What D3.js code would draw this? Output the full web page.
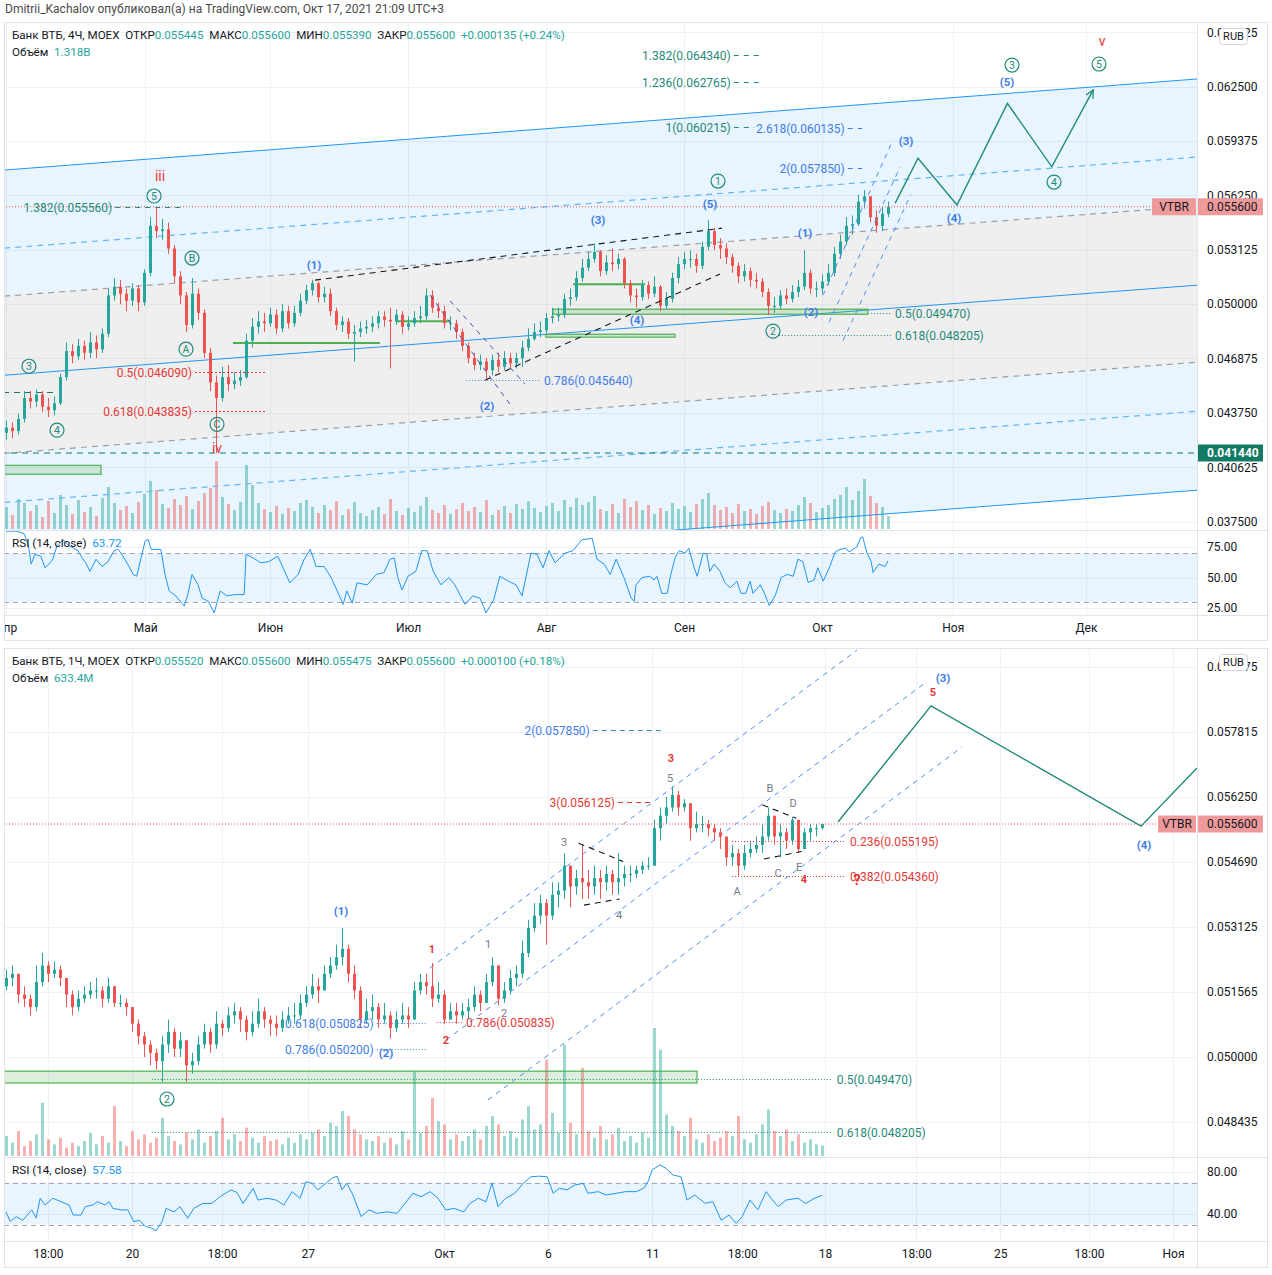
<!DOCTYPE html>
<html>
<head>
<meta charset="utf-8">
<script src="https://d3js.org/d3.v7.min.js"></script>
<style>
  body { margin: 0; background: #fff; }
  svg { display: block; font-family: Roboto, "Liberation Sans", sans-serif; }
  .pre { white-space: pre; }
</style>
</head>
<body>
<svg width="1272" height="1275"></svg>
<script>
// prices are kept x1000 (55.6 means 0.055600), volumes in billions

// ---------- top chart: VTBR 4h ----------
const topOpen0 = 42.6;
const topClose = [
  42.9,42.7,43.4,44.6,44.4,44.8,44.1,43.9,44.3,45.8,
  47.3,47.0,47.6,47.2,47.8,47.4,48.3,50.5,51.0,50.6,
  50.2,50.9,50.1,51.8,54.5,54.2,54.3,53.2,51.6,50.5,
  48.8,50.6,49.5,47.2,45.5,44.6,45.8,45.4,45.6,45.8,
  47.9,48.7,49.0,48.9,49.4,48.6,49.6,48.9,49.5,50.2,
  50.8,51.2,50.4,50.6,49.6,48.8,49.0,48.3,48.4,48.6,
  48.7,48.9,49.3,49.1,49.0,49.4,48.7,48.9,49.2,49.3,
  50.5,49.8,49.6,48.9,48.9,48.4,47.6,46.9,46.5,46.7,
  46.2,46.8,46.4,46.9,46.6,46.9,47.5,48.0,48.4,48.5,
  49.2,49.3,49.4,50.3,50.4,51.5,52.1,52.6,53.0,51.9,
  52.4,52.3,52.6,51.2,50.5,50.4,51.1,50.6,51.0,49.9,
  50.3,51.5,52.3,52.6,52.6,52.2,53.3,54.2,53.4,53.2,
  52.7,52.2,51.6,51.9,51.4,51.3,50.7,49.9,49.9,50.5,
  50.3,50.7,51.0,51.8,50.9,50.9,51.3,51.8,52.9,53.6,
  54.5,54.6,55.9,56.2,55.0,54.5,55.2,55.6];
const topHigh = [
  43.3,43.2,43.7,45.0,45.0,45.1,45.0,44.6,44.7,46.0,
  47.8,47.7,48.0,47.9,48.4,48.2,48.6,50.9,51.5,51.4,
  50.9,51.2,51.1,52.0,55.0,55.56,54.9,54.7,53.4,51.9,
  50.7,51.5,50.9,49.7,47.5,45.9,46.4,46.5,46.1,46.2,
  48.3,49.2,49.6,49.5,49.8,49.7,50.0,49.9,49.9,50.6,
  51.1,51.4,51.3,51.0,50.9,49.8,49.3,49.2,48.8,49.0,
  49.1,49.3,49.6,49.6,49.8,49.7,49.6,49.3,49.6,49.9,
  50.9,50.8,50.1,49.9,49.3,49.1,48.6,47.8,47.2,47.1,
  46.9,47.1,47.2,47.3,47.2,47.2,47.9,48.6,48.9,49.0,
  49.5,49.8,49.8,50.6,50.9,51.9,52.6,53.0,53.5,53.1,
  52.8,53.2,52.9,52.7,51.4,50.9,51.4,51.3,51.6,51.1,
  50.7,51.8,52.7,53.0,53.1,52.9,53.6,54.83,54.4,53.8,
  53.5,52.9,52.4,52.3,52.1,51.8,51.5,50.9,50.4,50.8,
  50.9,51.1,51.4,53.1,52.0,51.3,51.7,52.3,53.3,54.0,
  55.0,55.1,56.3,56.56,56.2,55.4,55.6,55.9];
const topLow = [
  42.2,42.3,42.5,43.2,44.0,44.1,43.8,43.5,43.6,44.2,
  45.6,46.6,46.8,46.8,46.9,46.9,47.2,48.1,50.2,50.0,
  49.6,49.9,49.6,49.9,51.6,53.8,53.7,52.9,51.2,50.0,
  48.4,48.6,49.1,46.9,45.0,41.44,44.4,45.0,45.1,45.3,
  45.7,47.5,48.3,48.4,48.7,48.3,48.4,48.6,48.7,49.3,
  50.0,50.5,50.1,50.1,49.3,48.5,48.4,48.0,46.7,48.1,
  48.3,48.4,48.6,48.7,46.3,48.8,48.3,48.5,48.7,48.9,
  49.1,49.5,49.2,48.6,48.5,48.0,47.3,46.6,46.2,46.2,
  45.64,45.9,46.1,46.2,46.3,46.3,46.4,47.3,47.9,48.1,
  48.3,48.9,49.0,49.2,49.9,50.2,51.3,51.9,52.4,51.6,
  51.7,51.9,52.0,50.9,50.1,49.8,50.2,50.3,50.4,49.6,
  49.7,50.1,51.2,52.0,52.1,51.8,52.0,53.1,53.1,52.6,
  52.3,51.8,51.2,51.3,51.0,50.9,50.4,49.37,49.5,49.7,
  50.0,50.1,50.4,50.8,50.6,50.4,50.6,51.1,51.6,52.6,
  53.4,54.0,54.5,55.5,54.7,54.1,54.2,55.0];
const topVol = [
  2.2,1.4,3.0,2.6,1.8,2.4,1.2,2.8,1.6,3.4,
  2.4,1.5,2.9,1.7,2.2,1.3,3.1,4.2,2.6,1.9,
  2.3,1.6,2.7,3.5,4.8,3.9,2.5,2.1,3.0,2.4,
  3.3,2.0,2.8,3.6,4.1,6.8,3.2,2.5,1.9,2.7,
  6.4,4.4,2.6,2.0,1.7,2.3,1.5,2.1,1.8,2.6,
  2.9,2.2,1.6,2.4,1.9,2.8,1.4,2.0,2.7,1.6,
  1.3,1.9,2.2,1.5,3.0,1.8,1.4,2.1,1.7,2.3,
  3.2,1.9,1.6,2.4,1.5,2.0,2.6,1.8,2.2,1.7,
  2.9,1.4,1.9,2.3,1.6,2.5,2.0,2.8,2.1,1.7,
  2.3,2.6,1.8,2.9,2.2,3.1,2.4,2.7,3.3,2.0,
  1.8,2.5,1.6,3.0,2.2,2.8,1.9,2.4,1.5,2.1,
  1.8,2.6,2.0,2.3,1.7,2.5,3.0,3.6,2.4,1.9,
  2.2,1.6,2.5,1.8,2.0,1.5,2.3,2.7,1.9,1.6,
  2.0,1.8,2.4,3.2,2.6,1.7,2.1,2.4,3.0,3.4,
  4.2,2.9,3.8,5.0,3.3,2.6,2.2,1.3];
const topRsi = [[0,88],[1.7,88],[3,86],[3.7,77],[4.2,61],[4.8,69],[5.8,67.5],[6.5,58],[7.2,61],[7.8,65],[8.5,76],[9.5,81],[10.5,76],[12,72],[12.7,66],[13.3,62],[14,55],[15,65],[16,59],[17,63],[18,72],[18.7,73],[19.3,69],[20.5,59],[21.2,52.5],[21.8,51],[22.5,66],[23.2,80],[23.7,81],[24.2,73],[25.8,73],[26.5,52.5],[27.2,39],[28.3,35],[29.7,26.5],[30.3,36],[31,52.5],[32,44],[32.7,33],[33.7,30.6],[34.7,21],[35.7,39],[36.8,35],[38.2,36],[39.7,36],[40,69],[41.2,66],[42.5,62],[43.8,63],[45.3,67.5],[46.3,56.5],[47.3,45.6],[48.7,52.5],[49.7,65],[50.7,73],[51.7,59],[53,59],[54.2,50],[55.2,39],[56.2,28],[56.8,39],[57.7,29],[58.5,45.6],[60.2,44],[61.7,52.5],[63,54],[64,65],[64.7,66],[65.3,50],[66,40],[67,51],[68.3,55],[69.3,72],[70.2,72],[71.2,55],[72.5,44],[73.8,50],[74.8,44],[76.5,28],[77.8,35],[79,33],[80,21],[81.3,32],[82.3,51],[83.7,47],[85,44],[86,35],[87.5,70],[88.5,69],[89.5,58],[90.5,72],[91.5,62],[93.2,70],[94.5,72],[96,81],[97.7,82],[98.5,65],[99.7,61],[100.7,52.5],[101.7,65],[103,50],[104.2,33],[104.7,30.6],[105,44],[106,50],[107.3,51],[108,48],[108.5,51],[109.3,37],[110.2,37],[110.8,52.5],[111.5,66],[112.2,72],[113.2,70],[113.8,74],[114.7,58],[115.2,51],[116.2,70],[116.8,69],[117.3,55],[118,61],[119,55],[119.8,46],[120.7,41.5],[121.8,47],[122.5,37],[123.3,37],[124,47],[124.5,37],[125.7,44],[126.5,36],[127.2,27],[128.2,35],[129.2,50],[130.2,52.5],[131.2,51],[132,65],[132.8,63],[133.7,46],[134.7,48],[135.3,58],[136.2,47],[137.3,59],[138.2,71],[139,73],[140,74],[140.5,71],[141.8,75],[142.5,83],[142.8,83],[143.5,70],[144.2,63],[144.5,54],[145.5,61],[146.5,59],[147,63.7]];

const topTime = [["Апр",0],["Май",23.2],["Июн",44],["Июл",67],["Авг",90],["Сен",113],["Окт",136],["Ноя",157.8],["Дек",180]];
const topTicks = [37.5,40.625,43.75,46.875,50,53.125,56.25,59.375,62.5,65.625];
const topTickLabels = ["0.037500","0.040625","0.043750","0.046875","0.050000","0.053125","0.056250","0.059375","0.062500","0.065625"];
const topRsiTicks = [25,50,75];
const topHeader = ["Банк ВТБ, 4Ч, MOEX", "0.055445", "0.055600", "0.055390", "0.055600", "+0.000135 (+0.24%)", "1.318B", "63.72"];

// drawings on the top chart, [i0, p0, i1, p1] in bar index / price
const topChannel = [[-0.3,57.71,198.5,62.95],[-0.3,45.91,198.5,51.09],[-0.3,34.06,198.5,39.30]];
const topChannelDash = [[-0.3,53.22,198.5,58.46],[-0.3,38.60,198.5,43.84]];
const topGrayDash = [[-0.3,50.46,198.5,55.64],[-0.3,41.42,198.5,46.66]];
const topBlackDash = [[51.5,51.38,119.33,54.37],[79.83,45.63,119,51.73]];
const topNavyDash = [[70.67,50.52,84.5,44.01],[74,50.2,86.5,45.4]];
const topBlueDiag = [[136.17,50.52,147.83,59.44],[137.17,48.96,149,57.88],[139.5,47.9,150.8,56.3]];
const topGreenLines = [[37.83,62.33,47.76],[65.17,74,49.02],[94.5,106.5,51.15]];
const topGreenBoxes = [[-0.33,15.83,40.22,40.73],[91.17,143.67,49.42,49.71],[90,111.5,48.10,48.27]];
const topLevels = [[-1,199,41.44],[-0.5,8.5,44.92]];
const topFibTealLeft = [["1.382(0.064340)",64.34,121.3,126],["1.236(0.062765)",62.765,121.3,126],["1(0.060215)",60.215,121.3,124.7],["1.382(0.055560)",55.56,18.2,29.5]];
const topFibBlueLeft = [["2.618(0.060135)",60.135,140.3,142.7],["2(0.057850)",57.85,140.3,142.7]];
const topFibRedLeft = [["0.5(0.046090)",46.09,31.5,43.2],["0.618(0.043835)",43.835,31.5,43.2]];
const topFibBlueRight = [["0.786(0.045640)",45.64,76.7,89]];
const topFibTealRight = [["0.5(0.049470)",49.47,144.2,147.5],["0.618(0.048205)",48.205,128.8,147.5]];
const topCircled = [["3",3.83,46.43],["4",8.5,42.75],["5",24.67,56.22],["B",31,52.65],["A",30,47.41],["C",35.17,43.09],["1",118.67,57.08],["2",127.83,48.45],["3",167.67,63.75],["4",174.67,57.02],["5",182.17,63.81]];
const topRoman = [["iii",25.67,57.37],["iv",35.17,41.71],["v",182.67,65.14]];
const topParen = [["(1)",51.33,52.24],["(2)",80.17,44.13],["(3)",98.67,54.83],["(4)",105.17,49.08],["(5)",117.33,55.76],["(1)",133.17,54.09],["(2)",134.17,49.54],["(3)",150,59.38],["(4)",158,54.95],["(5)",166.83,62.78]];
const topPath = [[148.2,55.81],[152,58.39],[158.5,55.70],[166.9,61.55],[174.3,57.90],[181.2,62.32]];

// ---------- bottom chart: VTBR 1h ----------
const botOpen0 = 51.7;
const botClose = [
  51.9,52.0,51.5,51.4,51.2,51.8,52.2,52.0,52.1,51.9,
  51.5,51.2,51.4,51.5,51.6,51.6,51.4,51.7,51.3,51.3,
  51.2,50.8,50.5,50.3,50.1,49.9,50.3,50.6,50.2,50.4,
  49.8,49.9,50.3,50.6,50.3,50.8,50.7,51.0,51.1,50.9,
  50.6,50.8,51.1,50.9,50.8,50.7,50.9,51.0,51.0,51.3,
  51.5,51.7,51.6,52.0,52.2,52.4,52.6,52.0,51.6,50.9,
  51.1,51.2,50.9,51.0,50.7,50.9,51.0,50.9,51.6,51.8,
  51.7,51.4,51.5,50.9,51.1,51.0,51.1,51.2,51.5,51.3,
  51.8,52.2,51.4,51.6,51.9,52.0,52.5,53.1,53.4,53.7,
  53.4,53.9,54.0,54.6,54.1,54.3,54.2,54.1,54.3,54.2,
  54.4,54.2,54.3,54.4,54.4,54.5,54.6,54.6,55.5,55.8,
  56.0,56.3,56.0,56.1,55.5,55.6,55.6,55.5,55.4,55.3,
  54.8,54.9,54.6,54.9,55.0,55.1,55.3,55.8,55.3,55.4,
  55.2,55.7,55.0,55.4,55.5,55.5,55.6];
const botHigh = [
  52.1,52.2,52.0,51.7,51.5,52.2,52.5,52.3,52.3,52.2,
  51.9,51.6,51.6,51.7,51.8,51.9,51.7,51.9,51.7,51.5,
  51.4,51.2,50.9,50.6,50.4,50.2,50.5,50.9,50.7,50.6,
  50.4,50.1,50.5,50.8,50.7,51.1,50.9,51.2,51.3,51.2,
  51.0,51.1,51.4,51.2,51.0,51.0,51.1,51.2,51.3,51.5,
  51.7,52.0,51.9,52.2,52.4,52.7,53.1,52.7,52.2,51.7,
  51.4,51.5,51.3,51.3,51.1,51.1,51.3,51.2,51.8,52.0,
  52.0,52.26,51.8,51.6,51.3,51.3,51.3,51.4,51.7,51.6,
  52.0,52.4,52.2,51.8,52.1,52.2,52.8,53.3,53.7,53.9,
  53.8,54.2,54.2,54.9,54.6,54.5,55.1,54.5,54.6,54.5,
  54.6,54.5,54.9,54.6,54.6,54.6,54.7,54.8,55.7,56.0,
  56.25,56.5,56.4,56.2,56.1,55.9,55.8,55.7,55.6,55.5,
  55.3,55.1,55.0,55.1,55.2,55.3,55.6,56.0,55.8,55.6,
  55.5,55.77,55.6,55.5,55.6,55.6,55.6];
const botLow = [
  51.6,51.7,51.3,51.2,51.0,51.1,51.7,51.8,51.9,51.7,
  51.2,51.0,51.1,51.3,51.4,51.4,51.2,51.3,51.2,51.2,
  51.0,50.6,50.3,50.0,49.8,49.7,49.4,50.1,50.0,50.0,
  49.4,49.6,49.8,50.2,50.1,50.2,50.5,50.6,50.8,50.6,
  50.4,50.5,50.7,50.7,50.5,50.5,50.6,50.8,50.8,50.9,
  51.2,51.4,51.3,51.6,51.9,52.1,52.2,51.8,51.4,50.7,
  50.8,50.9,50.7,50.8,50.45,50.6,50.8,50.7,50.9,51.5,
  51.5,51.2,51.3,50.8,50.9,50.8,50.9,50.9,51.1,51.1,
  51.3,51.7,51.25,51.3,51.5,51.7,51.9,52.4,53.0,53.2,
  52.7,53.3,53.6,53.8,53.6,53.9,53.8,53.8,53.9,53.8,
  54.0,53.9,53.9,54.1,54.2,54.3,54.4,54.5,54.6,55.2,
  55.6,55.9,55.8,55.9,55.2,55.4,55.4,55.3,55.2,55.0,
  54.6,54.6,54.36,54.5,54.8,54.9,54.9,55.2,55.1,54.8,
  55.0,55.1,54.9,55.0,55.2,55.3,55.47];
const botVol = [
  1.2,0.8,1.5,0.6,0.9,1.3,3.2,1.0,0.7,1.1,
  0.5,0.8,0.6,0.9,1.4,0.7,1.2,0.8,3.0,0.9,
  0.6,1.5,1.0,1.3,0.8,1.1,2.3,1.2,0.9,0.7,
  1.4,1.0,1.6,0.8,1.2,1.5,2.3,1.0,1.3,0.9,
  1.7,1.1,0.8,1.2,0.9,1.0,0.7,1.1,0.8,1.3,
  1.0,1.4,1.6,1.2,2.0,1.8,2.7,2.4,1.6,1.3,
  1.0,0.9,1.2,0.8,1.1,0.7,1.5,1.0,5.1,1.4,
  1.8,3.5,2.1,1.9,1.0,1.3,0.9,1.2,1.6,1.0,
  1.8,2.4,1.9,1.2,1.5,1.1,2.2,3.0,1.6,1.9,
  5.8,2.6,1.4,6.7,2.0,1.3,5.3,1.5,1.1,1.8,
  1.0,1.3,1.7,0.9,1.2,0.8,1.4,1.1,7.7,6.4,
  2.5,1.8,1.5,1.2,2.3,1.0,0.8,1.3,0.9,1.1,
  1.5,1.2,2.4,1.0,0.8,1.3,1.9,2.8,1.5,1.2,
  1.6,0.9,1.3,0.8,1.0,0.7,0.63];
const botRsi = [[0,42],[0.7,33],[1.7,37.5],[2.8,34],[4.3,44],[5,36],[5.7,55],[6.5,48.6],[7.8,55],[9.2,51.7],[10.5,48.6],[11.2,39],[12.5,39],[13.2,47],[14.5,48.6],[15.2,51.7],[16.5,48.6],[17.2,51.7],[17.8,45.4],[19.3,43.8],[20.3,44],[21.3,32.7],[22.2,34],[23.3,28],[24.3,26.5],[25,24],[26,32.7],[26.7,45.4],[28,42],[29,47],[30.3,36],[31.3,45.4],[32.8,50],[34.3,50],[35.7,56.5],[37.5,63],[38.5,60.5],[39.5,50],[41.2,64.5],[42,53.3],[43.5,55],[45,53.3],[46.3,48.6],[47.7,61.3],[49,55],[50,70.8],[51,69.2],[52,63],[53.3,69.2],[54.3,74],[55.2,76],[56,63],[56.8,69.2],[57.7,59.7],[59.2,37.5],[60.5,44],[61.8,40.6],[63.5,42],[65.2,40.6],[66.5,50],[67.8,59.7],[69.2,56.5],[70.7,61.3],[72,55],[73.3,43.8],[74.7,45.4],[76.3,42],[77.3,50],[78.7,55],[80,51.7],[81,69.2],[82,47],[83.3,55],[84.8,59.7],[86.2,69.2],[87.5,75.5],[88.8,76],[90.2,75.5],[91.2,59.7],[92.2,64.5],[93.5,63],[94.8,67.6],[96.2,69.2],[97,59.7],[98.7,61.3],[100,58.1],[101.7,59.7],[103.3,61.3],[105,61.3],[106.3,64.5],[107,70.8],[107.7,82],[109,86.7],[110,83.5],[111.2,77],[112.5,75.5],[113.5,53.3],[114.8,58.1],[116.5,50.2],[117.8,51.7],[119.2,34],[120.5,39],[121.7,31],[122.7,37.5],[124,53.3],[125.3,44],[126.7,61.3],[127.5,55],[128.7,47],[130,53.3],[132,55],[133.3,50],[134.7,55],[136,57.6]];

const botTime = [["18:00",7],["20",21],["18:00",36],["27",50.3],["Окт",73],["6",90.3],["11",107.7],["18:00",122.7],["18",136.5],["18:00",151.7],["25",165.7],["18:00",180.5],["Ноя",194.5]];
const botTicks = [48.4375,50,51.5625,53.125,54.6875,56.25,57.8125,59.375];
const botTickLabels = ["0.048435","0.050000","0.051565","0.053125","0.054690","0.056250","0.057815","0.059375"];
const botRsiTicks = [40,80];
const botHeader = ["Банк ВТБ, 1Ч, MOEX", "0.055520", "0.055600", "0.055475", "0.055600", "+0.000100 (+0.18%)", "633.4M", "57.58"];

const botChannelDash = [[70.67,52.14,141.83,59.78],[73.33,50.41,153.17,58.99],[80.33,48.97,159.33,57.45]];
const botBlackDash = [[95.43,55.14,102.87,54.70],[96.33,53.65,102.27,53.80],[126.08,56.06,131.73,55.74],[126.33,54.76,132.63,54.94]];
const botGreenBoxes = [[-0.33,115.17,49.375,49.66]];
const botFibRedLeft = [["3(0.056125)",56.125,102,107.7]];
const botFibBlueLeft = [["2(0.057850)",57.85,97.8,109.7]];
const botFibBlueDot = [["0.618(0.050825)",50.825,61.8,70.3],["0.786(0.050200)",50.2,61.8,70.3]];
const botFibRedRight = [["0.236(0.055195)",55.195,121,140],["0.382(0.054360)",54.36,121,140],["0.786(0.050835)",50.835,71.8,76]];
const botFibTealRight = [["0.5(0.049470)",49.47,24.3,137.8],["0.618(0.048205)",48.205,24.3,137.8]];
const botCircled = [["2",26.83,48.99]];
const botParen = [["(1)",55.83,53.51],["(2)",63.33,50.10],["(3)",156.17,59.11],["(4)",189.67,55.10]];
const botRed = [["1",71,52.60],["2",73.33,50.41],["3",110.83,57.19],["4",133,54.28],["5",154.5,58.77]];
const botGray = [["1",80.33,52.72],["2",83,51.06],["3",93,55.17],["4",102.17,53.41],["5",110.67,56.71],["A",121.83,53.99],["B",127.33,56.47],["C",128.67,54.42],["D",131.17,56.11],["E",132.17,54.57]];
const botPath = [[138.67,55.65],[154.17,58.44],[189.17,55.55],[198.5,56.95]];

// ---------- drawing ----------
const FONT = 'Roboto, "Liberation Sans", sans-serif';
const UP = '#26a69a', DOWN = '#ef5350', TXT = '#131722';
const TEAL = '#1f8a78', BLUE = '#2196f3', WBLUE = '#3f7ee8', RED = '#e53935', GRAY = '#787b86';
const L = 4, R = 1268, AX = 1197;

const svg = d3.select('svg');
const defs = svg.append('defs');
defs.append('marker').attr('id', 'arr').attr('viewBox', '0 0 10 10')
  .attr('refX', 9).attr('refY', 5).attr('markerWidth', 7).attr('markerHeight', 7)
  .attr('orient', 'auto').append('path').attr('d', 'M1,1 L9,5 L1,9')
  .attr('fill', 'none').attr('stroke', TEAL).attr('stroke-width', 1.3);

svg.append('text').attr('x', 5).attr('y', 13).attr('font-size', 12).attr('fill', '#4a4a4a')
  .text('Dmitrii_Kachalov опубликовал(а) на TradingView.com, Окт 17, 2021 21:09 UTC+3');

function setupPanel(c) {
  const x = d3.scaleLinear().domain([0, 198]).range([6, 1194]);
  const y = d3.scaleLinear().domain(c.yDomain).range(c.yRange);
  const yr = d3.scaleLinear().domain(c.rsiDomain).range(c.rsiRange);
  const yv = d3.scaleLinear().domain([0, c.volMax]).range([c.mainBottom - 1, c.mainBottom - 1 - c.volPx]);
  [['m', c.top, c.mainBottom], ['r', c.mainBottom, c.rsiBottom], ['t', c.rsiBottom, c.bottom]].forEach(([k, a, b]) =>
    defs.append('clipPath').attr('id', c.id + k).append('rect')
      .attr('x', L).attr('y', a).attr('width', AX - L).attr('height', b - a));

  const root = svg.append('g');
  const grid = root.append('g').attr('stroke', '#eef1f7').attr('stroke-width', 1);
  c.time.forEach(d => grid.append('line')
    .attr('x1', Math.round(x(d[1])) + 0.5).attr('x2', Math.round(x(d[1])) + 0.5)
    .attr('y1', c.top).attr('y2', c.rsiBottom));
  c.ticks.forEach(v => grid.append('line').attr('x1', L).attr('x2', AX)
    .attr('y1', Math.round(y(v)) + 0.5).attr('y2', Math.round(y(v)) + 0.5));
  c.rsiTicks.forEach(v => grid.append('line').attr('x1', L).attr('x2', AX)
    .attr('y1', Math.round(yr(v)) + 0.5).attr('y2', Math.round(yr(v)) + 0.5));

  const main = root.append('g').attr('clip-path', `url(#${c.id}m)`);
  const rsi = root.append('g').attr('clip-path', `url(#${c.id}r)`);
  const tax = root.append('g').attr('clip-path', `url(#${c.id}t)`);
  return { c, x, y, yr, yv, root, main, rsi, tax };
}

function drawVolume(P, open0, close, vol) {
  P.main.append('g').selectAll('rect').data(vol).join('rect')
    .attr('x', (d, i) => Math.round(P.x(i)) - 1).attr('width', 3)
    .attr('y', d => P.yv(d)).attr('height', d => P.yv(0) - P.yv(d))
    .attr('fill', (d, i) => close[i] >= (i ? close[i - 1] : open0) ? UP : DOWN)
    .attr('opacity', 0.45);
}

function drawCandles(P, open0, close, high, low) {
  const data = close.map((c, i) => ({ i, o: i ? close[i - 1] : open0, c, h: high[i], l: low[i] }));
  const g = P.main.append('g');
  g.selectAll('line').data(data).join('line')
    .attr('x1', d => Math.round(P.x(d.i)) + 0.5).attr('x2', d => Math.round(P.x(d.i)) + 0.5)
    .attr('y1', d => P.y(Math.max(d.h, d.o, d.c))).attr('y2', d => P.y(Math.min(d.l, d.o, d.c)))
    .attr('stroke', d => d.c >= d.o ? UP : DOWN);
  g.selectAll('rect').data(data).join('rect')
    .attr('x', d => Math.round(P.x(d.i)) - 1).attr('width', 3)
    .attr('y', d => P.y(Math.max(d.o, d.c)))
    .attr('height', d => Math.max(1, Math.abs(P.y(d.o) - P.y(d.c))))
    .attr('fill', d => d.c >= d.o ? UP : DOWN);
}

function drawRsi(P, pts) {
  const c = P.c;
  P.rsi.append('rect').attr('x', L).attr('width', AX - L)
    .attr('y', P.yr(70)).attr('height', P.yr(30) - P.yr(70)).attr('fill', 'rgba(33,150,243,0.1)');
  [70, 30].forEach(v => P.rsi.append('line').attr('x1', L).attr('x2', AX)
    .attr('y1', Math.round(P.yr(v)) + 0.5).attr('y2', Math.round(P.yr(v)) + 0.5)
    .attr('stroke', '#a3a6af').attr('stroke-dasharray', '5,4'));
  P.rsi.append('path').datum(pts)
    .attr('d', d3.line().x(d => P.x(d[0])).y(d => P.yr(d[1])))
    .attr('fill', 'none').attr('stroke', BLUE).attr('stroke-width', 1);
  const t = P.rsi.append('text').attr('x', 12).attr('y', c.mainBottom + 17).attr('font-size', 11.7).attr('class', 'pre');
  t.append('tspan').attr('fill', TXT).text('RSI (14, close)  ');
  t.append('tspan').attr('fill', BLUE).text(c.header[7]);
}

function segs(g, P, arr, color, dash, width) {
  g.append('g').selectAll('line').data(arr).join('line')
    .attr('x1', d => P.x(d[0])).attr('y1', d => P.y(d[1]))
    .attr('x2', d => P.x(d[2])).attr('y2', d => P.y(d[3]))
    .attr('stroke', color).attr('stroke-width', width || 1)
    .attr('stroke-dasharray', dash || null);
}

function boxes(g, P, arr) {
  g.append('g').selectAll('rect').data(arr).join('rect')
    .attr('x', d => P.x(d[0])).attr('width', d => P.x(d[1]) - P.x(d[0]))
    .attr('y', d => P.y(d[3])).attr('height', d => P.y(d[2]) - P.y(d[3]))
    .attr('fill', 'rgba(76,175,80,0.2)').attr('stroke', '#4caf50').attr('stroke-width', 1.2);
}

function fibs(g, P, arr, color, dash, side) {
  arr.forEach(([label, p, i0, i1]) => {
    const yy = Math.round(P.y(p)) + 0.5;
    g.append('line').attr('x1', P.x(i0)).attr('x2', P.x(i1)).attr('y1', yy).attr('y2', yy)
      .attr('stroke', color).attr('stroke-dasharray', dash);
    g.append('text').attr('x', side === 'left' ? P.x(i0) - 3 : P.x(i1) + 4).attr('y', yy)
      .attr('dy', '0.35em').attr('text-anchor', side === 'left' ? 'end' : 'start')
      .attr('font-size', 12).attr('fill', color).text(label);
  });
}

function labels(g, P, arr, color, size, weight) {
  g.append('g').selectAll('text').data(arr).join('text')
    .attr('x', d => P.x(d[1])).attr('y', d => P.y(d[2])).attr('dy', '0.35em')
    .attr('text-anchor', 'middle').attr('font-size', size).attr('font-weight', weight || 'normal')
    .attr('fill', color).text(d => d[0]);
}

function circled(g, P, arr) {
  const s = g.append('g').selectAll('g').data(arr).join('g')
    .attr('transform', d => `translate(${P.x(d[1])},${P.y(d[2])})`);
  s.append('circle').attr('r', 7).attr('fill', 'none').attr('stroke', TEAL).attr('stroke-width', 1.2);
  s.append('text').attr('dy', '0.36em').attr('text-anchor', 'middle').attr('font-size', 10.5)
    .attr('fill', TEAL).text(d => d[0]);
}

function pathLine(g, P, pts, arrow) {
  g.append('path').datum(pts)
    .attr('d', d3.line().x(d => P.x(d[0])).y(d => P.y(d[1])))
    .attr('fill', 'none').attr('stroke', TEAL).attr('stroke-width', 1.4)
    .attr('marker-end', arrow ? 'url(#arr)' : null);
}

function header(P) {
  const c = P.c, h = c.header;
  const t = P.root.append('text').attr('x', 12).attr('y', c.top + 17).attr('font-size', 11.6).attr('class', 'pre');
  [[h[0] + '  ОТКР', 0], [h[1], 1], ['  МАКС', 0], [h[2], 1], ['  МИН', 0], [h[3], 1],
   ['  ЗАКР', 0], [h[4], 1], ['  ' + h[5], 1]].forEach(([s, k]) =>
    t.append('tspan').attr('fill', k ? UP : TXT).text(s));
  const v = P.root.append('text').attr('x', 12).attr('y', c.top + 34).attr('font-size', 11.6).attr('class', 'pre');
  v.append('tspan').attr('fill', TXT).text('Объём  ');
  v.append('tspan').attr('fill', UP).text(h[6]);
}

function frame(P) {
  const c = P.c, g = P.root.append('g');
  g.append('rect').attr('x', L + 0.5).attr('y', c.top + 0.5).attr('width', R - L - 1).attr('height', c.bottom - c.top - 1)
    .attr('fill', 'none').attr('stroke', '#e0e3eb');
  [c.mainBottom, c.rsiBottom].forEach(v => g.append('line').attr('x1', L).attr('x2', R)
    .attr('y1', v + 0.5).attr('y2', v + 0.5).attr('stroke', '#e0e3eb'));
  g.append('line').attr('x1', AX + 0.5).attr('x2', AX + 0.5).attr('y1', c.top).attr('y2', c.bottom).attr('stroke', '#e0e3eb');

  // price axis
  const ya = g.append('g').attr('transform', `translate(${AX},0)`)
    .call(d3.axisRight(P.y).tickValues(c.ticks).tickFormat((d, i) => c.tickLabels[i]).tickSize(0).tickPadding(10));
  const ra = g.append('g').attr('transform', `translate(${AX},0)`)
    .call(d3.axisRight(P.yr).tickValues(c.rsiTicks).tickFormat(d3.format('.2f')).tickSize(0).tickPadding(10));
  // time axis
  const ta = P.tax.append('g').attr('transform', `translate(0,${c.rsiBottom})`)
    .call(d3.axisBottom(P.x).tickValues(c.time.map(d => d[1])).tickFormat((d, i) => c.time[i][0]).tickSize(0).tickPadding(8));
  [ya, ra, ta].forEach(a => {
    a.select('.domain').remove();
    a.attr('font-family', FONT).attr('font-size', 12);
    a.selectAll('text').attr('fill', TXT);
  });

  // RUB badge
  g.append('rect').attr('x', 1219.5).attr('y', c.top + 6.5).attr('width', 28).attr('height', 16).attr('rx', 3)
    .attr('fill', '#fff').attr('stroke', '#d1d4dc');
  g.append('text').attr('x', 1233.5).attr('y', c.top + 14.5).attr('dy', '0.35em').attr('text-anchor', 'middle')
    .attr('font-size', 11).attr('fill', TXT).text('RUB');
}

function priceTag(P, p, text, bg, fg, name, nameW) {
  const g = P.root.append('g'), yy = P.y(p);
  if (name) {
    g.append('rect').attr('x', AX - 1 - nameW).attr('y', yy - 8.5).attr('width', nameW).attr('height', 17).attr('fill', bg);
    g.append('text').attr('x', AX - 1 - nameW / 2).attr('y', yy).attr('dy', '0.35em').attr('text-anchor', 'middle')
      .attr('font-size', 12).attr('fill', fg).text(name);
  }
  g.append('rect').attr('x', AX + 1).attr('y', yy - 8.5).attr('width', 65).attr('height', 17).attr('fill', bg);
  g.append('text').attr('x', AX + 10).attr('y', yy).attr('dy', '0.35em').attr('font-size', 12)
    .attr('font-weight', fg === '#fff' ? 'bold' : 'normal').attr('fill', fg).text(text);
}

// ----- top panel -----
const T = setupPanel({
  id: 'a', top: 22, mainBottom: 530, rsiBottom: 615, bottom: 641,
  yDomain: [37.5, 62.5], yRange: [521.5, 86.8], rsiDomain: [25, 75], rsiRange: [608, 547],
  volMax: 9, volPx: 90, time: topTime, ticks: topTicks, tickLabels: topTickLabels,
  rsiTicks: topRsiTicks, header: topHeader
});
{
  const g = T.main;
  const area = (a, b) => [[a[0], a[1]], [a[2], a[3]], [b[2], b[3]], [b[0], b[1]]];
  const poly = pts => 'M' + pts.map(d => [T.x(d[0]), T.y(d[1])].join(',')).join('L') + 'Z';
  g.append('path').attr('d', poly(area(topChannel[0], topGrayDash[0]))).attr('fill', 'rgba(33,150,243,0.1)');
  g.append('path').attr('d', poly(area(topGrayDash[1], topChannel[2]))).attr('fill', 'rgba(33,150,243,0.1)');
  g.append('path').attr('d', poly(area(topGrayDash[0], topGrayDash[1]))).attr('fill', 'rgba(150,150,150,0.15)');
  drawVolume(T, topOpen0, topClose, topVol);
  segs(g, T, topChannel, BLUE, null, 1);
  segs(g, T, topChannelDash, '#64b5f6', '6,5', 1.2);
  segs(g, T, topGrayDash, '#9e9e9e', '6,5', 1.2);
  segs(g, T, topLevels.map(d => [d[0], d[2], d[1], d[2]]), '#137a66', '6,5', 1.2);
  boxes(g, T, topGreenBoxes);
  segs(g, T, topGreenLines.map(d => [d[0], d[2], d[1], d[2]]), '#4caf50', null, 2);
  drawCandles(T, topOpen0, topClose, topHigh, topLow);
  segs(g, T, topBlackDash, TXT, '6,5', 1.1);
  segs(g, T, topNavyDash, '#3f51b5', '5,5', 1);
  segs(g, T, topBlueDiag, '#4f8df0', '5,5', 1);
  segs(g, T, [[-1, 55.6, 199, 55.6]], '#ef5350', '1,2', 1);
  fibs(g, T, topFibTealLeft, TEAL, '5,5', 'left');
  fibs(g, T, topFibBlueLeft, WBLUE, '5,5', 'left');
  fibs(g, T, topFibRedLeft, RED, '2,2', 'left');
  fibs(g, T, topFibBlueRight, WBLUE, '1,2', 'right');
  fibs(g, T, topFibTealRight, TEAL, '1,2', 'right');
  pathLine(g, T, topPath, true);
  circled(g, T, topCircled);
  labels(g, T, topRoman, RED, 14, 'normal');
  labels(g, T, topParen, WBLUE, 11.5, 'bold');
  drawRsi(T, topRsi);
  header(T);
  frame(T);
  priceTag(T, 55.6, '0.055600', '#ef9a9a', TXT, 'VTBR', 44);
  priceTag(T, 41.44, '0.041440', '#137a66', '#fff');
}

// ----- bottom panel -----
const B = setupPanel({
  id: 'b', top: 648, mainBottom: 1157, rsiBottom: 1241, bottom: 1268,
  yDomain: [48.4375, 59.375], yRange: [1122, 667], rsiDomain: [40, 80], rsiRange: [1214, 1172],
  volMax: 8, volPx: 133, time: botTime, ticks: botTicks, tickLabels: botTickLabels,
  rsiTicks: botRsiTicks, header: botHeader
});
{
  const g = B.main;
  drawVolume(B, botOpen0, botClose, botVol);
  boxes(g, B, botGreenBoxes);
  segs(g, B, botChannelDash, '#4f8df0', '5,5', 1);
  drawCandles(B, botOpen0, botClose, botHigh, botLow);
  segs(g, B, botBlackDash, TXT, '6,5', 1.1);
  segs(g, B, [[-1, 55.6, 199, 55.6]], '#ef5350', '1,2', 1);
  fibs(g, B, botFibRedLeft, RED, '5,4', 'left');
  fibs(g, B, botFibBlueLeft, WBLUE, '5,4', 'left');
  fibs(g, B, botFibBlueDot, WBLUE, '1,2', 'left');
  fibs(g, B, botFibRedRight, RED, '1,2', 'right');
  fibs(g, B, botFibTealRight, TEAL, '1,2', 'right');
  pathLine(g, B, botPath, false);
  circled(g, B, botCircled);
  labels(g, B, botParen, WBLUE, 11.5, 'bold');
  labels(g, B, botRed, RED, 11, 'bold');
  labels(g, B, botGray, GRAY, 11, 'normal');
  labels(g, B, [["?", 141.83, 54.25]], RED, 15, 'bold');
  drawRsi(B, botRsi);
  header(B);
  frame(B);
  priceTag(B, 55.6, '0.055600', '#ef9a9a', TXT, 'VTBR', 38);
}
</script>
</body>
</html>
